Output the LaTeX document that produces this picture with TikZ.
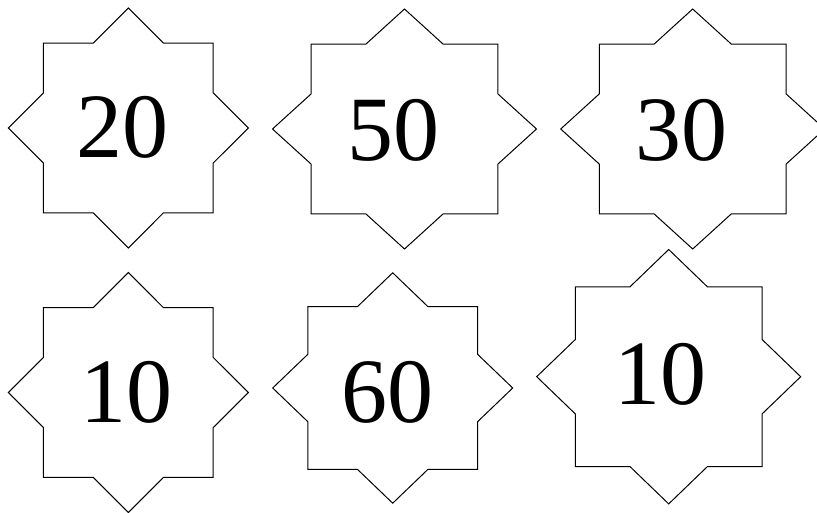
\documentclass[tikz,border=0pt]{standalone}
\usepackage{fontspec}
\setmainfont{Liberation Serif}
\begin{document}
\begin{tikzpicture}[x=1pt, y=-1pt,
    starline/.style={draw=black, line width=1pt, line join=miter},
    numtext/.style={anchor=base, inner sep=0pt, font=\fontsize{92}{100}\selectfont}]
    \useasboundingbox (0,0) rectangle (817,513);

    % Eight-pointed stars: centre x / centre y / x scale / y scale
    \foreach \cx/\cy/\sx/\sy in {128.3/128/1/1, 404.5/129/1.1/1, 692.7/129/1.1/1,
                                 128.3/392.5/1/1, 392.7/388/1/0.96, 668.7/376.7/1.1/1.06}
        \draw[starline, shift={(\cx,\cy)}, xscale=\sx, yscale=\sy]
            (90:120) \foreach \k in {0,...,7} { -- ({112.5+45*\k}:91.84) -- ({135+45*\k}:120) } -- cycle;

    % Top row numbers
    \node[numtext] (num20) at (122.5,157.3) {20};
    \node[numtext] (num50) at (393.3,160.7) {50};
    \node[numtext] (num30) at (681.3,160.7) {30};

    % Bottom row numbers
    \node[numtext] (num10a) at (126.7,422.3) {10};
    \node[numtext] (num60) at (387.5,422.3) {60};
    \node[numtext] (num10b) at (660.8,404) {10};
\end{tikzpicture}
\end{document}
